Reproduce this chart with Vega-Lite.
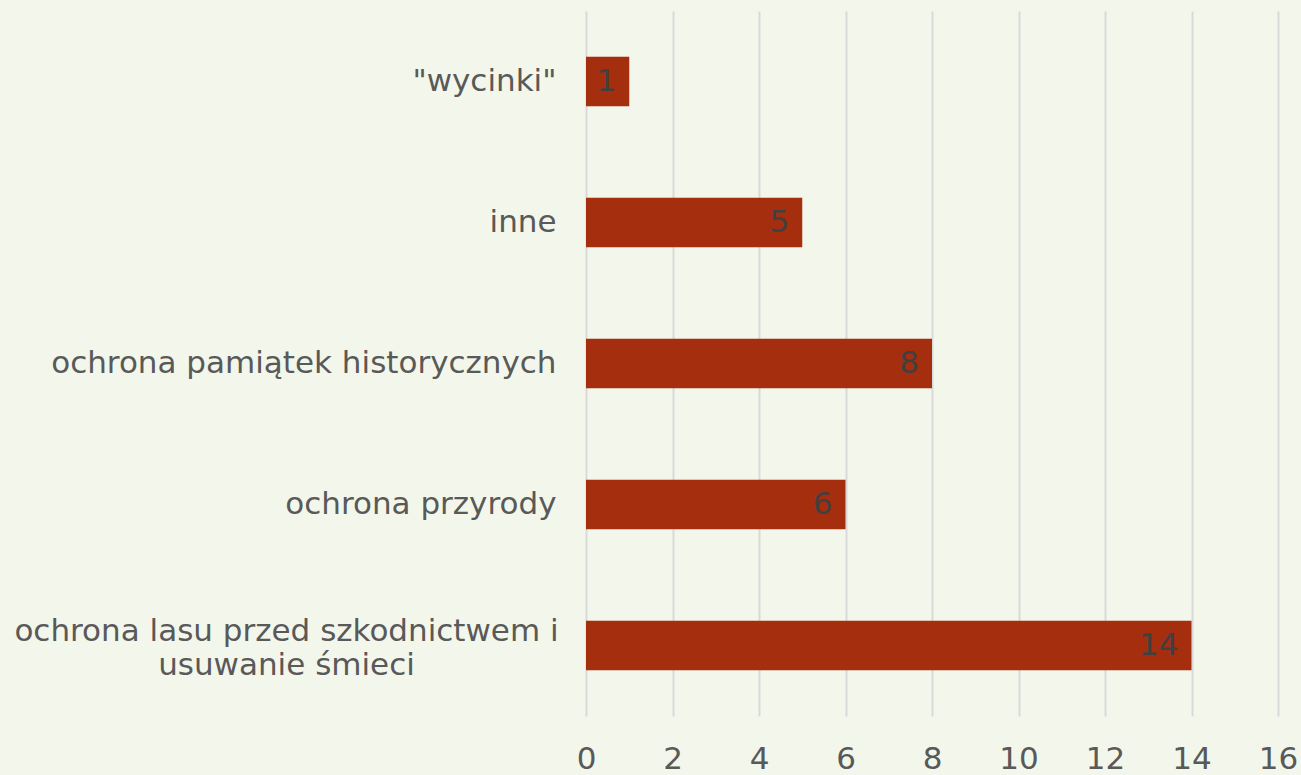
{
  "$schema": "https://vega.github.io/schema/vega-lite/v6.json",
  "width": 692,
  "height": 705,
  "autosize": {"type": "none"},
  "padding": {"left": 586, "top": 11, "right": 23, "bottom": 59},
  "background": "#F3F6EA",
  "config": {"view": {"stroke": null}, "font": "DejaVu Sans"},
  "data": {
    "values": [
      {"kategoria": "\"wycinki\"", "liczba": 1},
      {"kategoria": "inne", "liczba": 5},
      {"kategoria": "ochrona pamiątek historycznych", "liczba": 8},
      {"kategoria": "ochrona przyrody", "liczba": 6},
      {"kategoria": "ochrona lasu przed szkodnictwem i|usuwanie śmieci", "liczba": 14}
    ]
  },
  "encoding": {
    "y": {
      "field": "kategoria",
      "type": "nominal",
      "sort": null,
      "scale": {"paddingInner": 0.65, "paddingOuter": 0.325},
      "axis": {
        "title": null,
        "domain": false,
        "ticks": false,
        "labelFontSize": 31,
        "labelColor": "#595959",
        "labelLimit": 700,
        "labelLineHeight": 34,
        "labelExpr": "split(datum.label, '|')",
        "labelAlign": {"condition": {"test": "indexof(datum.value, '|') >= 0", "value": "center"}, "value": "right"},
        "labelPadding": {"condition": {"test": "indexof(datum.value, '|') >= 0", "value": 300}, "value": 30},
        "labelOffset": {"condition": {"test": "indexof(datum.value, '|') >= 0", "value": -14}, "value": 0}
      }
    },
    "x": {
      "field": "liczba",
      "type": "quantitative",
      "scale": {"domain": [0, 16], "nice": false},
      "axis": {
        "title": null,
        "domain": false,
        "ticks": false,
        "values": [0, 2, 4, 6, 8, 10, 12, 14, 16],
        "labelFontSize": 31,
        "labelColor": "#595959",
        "labelPadding": 28,
        "gridColor": "#D9D9D9",
        "gridWidth": 2,
        "labelFlush": false
      }
    }
  },
  "layer": [
    {"mark": {"type": "bar", "color": "#A52E0F"}},
    {
      "mark": {"type": "text", "align": "right", "baseline": "middle", "dx": -13, "fontSize": 31, "color": "#404040"},
      "encoding": {"text": {"field": "liczba", "type": "quantitative"}}
    }
  ]
}
